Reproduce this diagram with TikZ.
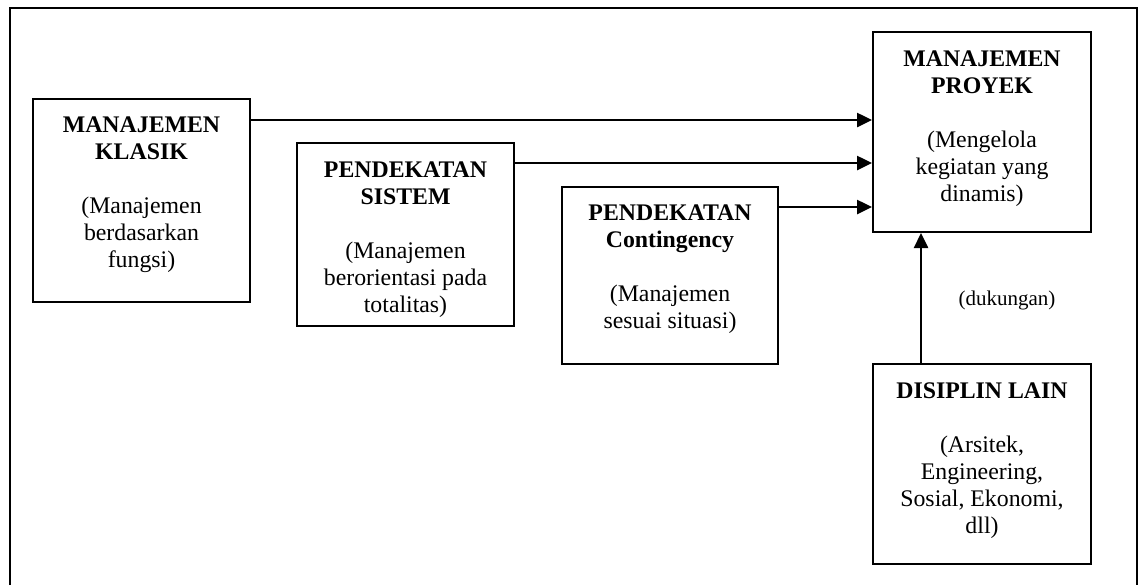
\documentclass[tikz,border=0pt]{standalone}
\usepackage{fontspec}
\setmainfont{Liberation Serif}
\usetikzlibrary{arrows.meta,fit}
\begin{document}
\begin{tikzpicture}[x=0.5pt,y=-0.5pt,
  box/.style={draw, line width=1pt, inner sep=0pt},
  boxtext/.style={align=center, anchor=base, inner sep=0pt,
    font=\fontsize{11.9pt}{13.5pt}\selectfont},
  note/.style={inner sep=0pt, font=\fontsize{10.5pt}{12pt}\selectfont},
  arr/.style={line width=1.25pt, -{Triangle[length=7.5pt,width=7pt]}}]
\useasboundingbox (0,0) rectangle (1139,585);

% outer frame (open at the bottom of the page)
\draw[line width=1pt] (9.5,585) -- (9.5,7.5) -- (1136.5,7.5) -- (1136.5,585);

% boxes
\node[box, fit={(33,98.5) (250,301.5)}] (klasik) {};
\node[box, fit={(297,143) (514,326)}] (sistem) {};
\node[box, fit={(562,187) (778,364)}] (contingency) {};
\node[box, fit={(873,32) (1091,232)}] (proyek) {};
\node[box, fit={(873,364) (1091,564)}] (disiplin) {};

% box texts (each placed by the baseline of its last line)
\node[boxtext] (klasiktxt) at (141.5,267.5)
  {\textbf{MANAJEMEN}\\\textbf{KLASIK}\\[13.5pt](Manajemen\\berdasarkan\\fungsi)};
\node[boxtext] (sistemtxt) at (405.5,312)
  {\textbf{PENDEKATAN}\\\textbf{SISTEM}\\[13.5pt](Manajemen\\berorientasi pada\\totalitas)};
\node[boxtext] (contingencytxt) at (670,328)
  {\textbf{PENDEKATAN}\\\textbf{Contingency}\\[13.5pt](Manajemen\\sesuai situasi)};
\node[boxtext] (proyektxt) at (982,201)
  {\textbf{MANAJEMEN}\\\textbf{PROYEK}\\[13.5pt](Mengelola\\kegiatan yang\\dinamis)};
\node[boxtext] (disiplintxt) at (982,533)
  {\textbf{DISIPLIN LAIN}\\[13.5pt](Arsitek,\\Engineering,\\Sosial, Ekonomi,\\dll)};

% connectors
\draw[arr] ([yshift=-11.25pt]klasik.north east) coordinate (k1) -- (k1 -| proyek.west);
\draw[arr] ([yshift=-10.5pt]sistem.north east) coordinate (s1) -- (s1 -| proyek.west);
\draw[arr] ([yshift=-10.5pt]contingency.north east) coordinate (c1) -- (c1 -| proyek.west);
\draw[arr] ([xshift=24.5pt]disiplin.north west) coordinate (d1) -- (d1 |- proyek.south);

\node[note] (dukungan) at (1007,300) {(dukungan)};
\end{tikzpicture}
\end{document}
